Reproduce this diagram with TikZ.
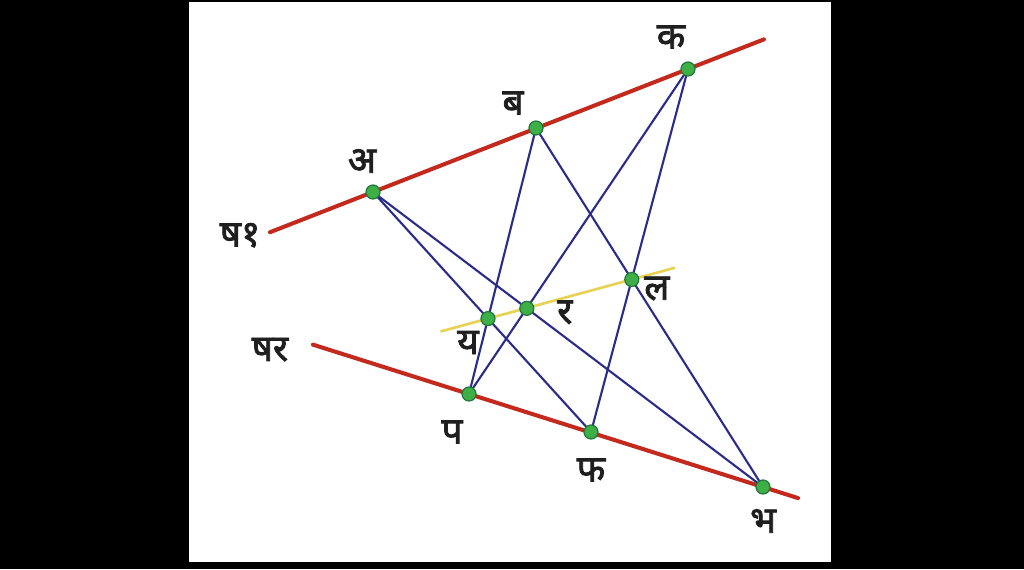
\documentclass[tikz,border=0pt]{standalone}
\usepackage{fontspec}
\newfontfamily\devfont[Script=Devanagari,FakeBold=2.2]{Noto Sans}
\usetikzlibrary{positioning,calc}

\definecolor{redline}{HTML}{C3291D}
\definecolor{blueline}{HTML}{2B2C8A}
\definecolor{yellowline}{HTML}{E8D256}
\definecolor{dotfill}{HTML}{3EAE46}
\definecolor{dotedge}{HTML}{22783A}

\begin{document}
\begin{tikzpicture}[x=0.02cm, y=-0.02cm,
        axis/.style={draw=redline, line width=2.3pt, line cap=round},
        ray/.style={draw=blueline, line width=1.2pt},
        meet/.style={draw=yellowline, line width=1.5pt},
        dot/.style={circle, fill=dotfill, draw=dotedge, line width=0.7pt, inner sep=0pt, minimum size=0.28cm},
        lbl/.style={font=\devfont\fontsize{21}{25}\selectfont, text=black!88, inner sep=0pt}]
    % frame
    \fill[black] (0,0) rectangle (1024,569);
    \fill[white] (189,2) rectangle (831,562);
    \useasboundingbox (0,0) rectangle (1024,569);

    % points on the two lines
    \coordinate (A) at (373,192);
    \coordinate (B) at (536,128);
    \coordinate (K) at (688,69);
    \coordinate (P) at (469,394);
    \coordinate (F) at (591,432);
    \coordinate (Bh) at (763,487);
    \coordinate (top1) at ($(A)!-0.327!(K)$);
    \coordinate (top2) at ($(A)!1.241!(K)$);
    \coordinate (bot1) at ($(P)!-0.531!(Bh)$);
    \coordinate (bot2) at ($(P)!1.119!(Bh)$);

    % crossing points
    \coordinate (Y) at (intersection of A--F and B--P);
    \coordinate (R) at (intersection of A--Bh and K--P);
    \coordinate (L) at (intersection of B--Bh and K--F);
    \coordinate (mid1) at ($(Y)!-0.33!(L)$);
    \coordinate (mid2) at ($(Y)!1.3!(L)$);

    \draw[axis] (top1) -- (top2);
    \draw[axis] (bot1) -- (bot2);
    \draw[meet] (mid1) -- (mid2);

    \draw[ray] (A) -- (F);
    \draw[ray] (A) -- (Bh);
    \draw[ray] (B) -- (P);
    \draw[ray] (B) -- (Bh);
    \draw[ray] (K) -- (P);
    \draw[ray] (K) -- (F);

    \foreach \p in {A,B,K,P,F,Bh,Y,R,L}
        \node[dot] (d\p) at (\p) {};

    \node[lbl] (lA) at ([shift={(-11,-31)}]A) {अ};
    \node[lbl] (lB) at ([shift={(-23,-25)}]B) {ब};
    \node[lbl] (lK) at ([shift={(-17,-32)}]K) {क};
    \node[lbl] (lY) at ([shift={(-20,24)}]Y) {य};
    \node[lbl] (lR) at ([shift={(38,4)}]R) {र};
    \node[lbl] (lL) at ([shift={(25,9)}]L) {ल};
    \node[lbl] (lP) at ([shift={(-17,38)}]P) {प};
    \node[lbl] (lF) at ([shift={(0,38)}]F) {फ};
    \node[lbl] (lBh) at ([shift={(0,34)}]Bh) {भ};
    \node[lbl] (l1) at ([shift={(-30,3)}]top1) {ष१};
    \node[lbl] (l2) at ([shift={(-43,5)}]bot1) {षर};
\end{tikzpicture}
\end{document}
